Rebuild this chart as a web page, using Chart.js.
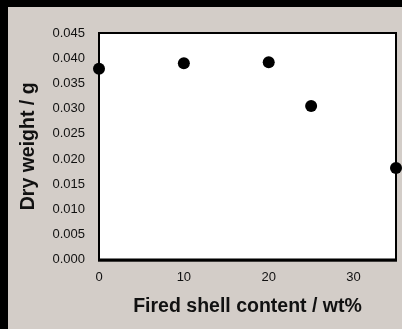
<!DOCTYPE html>
<html>
<head>
<meta charset="utf-8">
<style>
  html, body { margin: 0; padding: 0; background: #000; }
  #wrap { position: relative; width: 402px; height: 329px; }
</style>
<script src="https://cdn.jsdelivr.net/npm/chart.js@4/dist/chart.umd.min.js"></script>
</head>
<body>
<div id="wrap"><canvas id="c" width="402" height="329"></canvas></div>
<script>
// Fired shell content (wt%) and measured dry weight (g)
const shellContent = [0, 10, 20, 25, 35];
const dryWeight = [0.0379, 0.0390, 0.0392, 0.0305, 0.0182];
const xTicks = [0, 10, 20, 30];
const yTicks = [0, 0.005, 0.010, 0.015, 0.020, 0.025, 0.030, 0.035, 0.040, 0.045];

const FONT = "'Liberation Sans', Arial, Helvetica, sans-serif";

// Gray panel with black frame on top and left, and a boxed plot area
const framePlugin = {
  id: 'frame',
  beforeDraw(chart) {
    const ctx = chart.ctx;
    ctx.save();
    ctx.fillStyle = '#000';
    ctx.fillRect(0, 0, chart.width, chart.height);
    ctx.fillStyle = '#d3cdc8';
    ctx.fillRect(8, 7, chart.width - 8, chart.height - 7);
    const a = chart.chartArea;
    ctx.fillStyle = '#ffffff';
    ctx.fillRect(a.left, a.top, a.right - a.left, a.bottom - a.top);
    ctx.restore();
  },
  afterDatasetsDraw(chart) {},
  beforeDatasetsDraw(chart) {
    const ctx = chart.ctx;
    const a = chart.chartArea;
    ctx.save();
    ctx.strokeStyle = '#000';
    ctx.lineWidth = 2;
    ctx.strokeRect(a.left, a.top, a.right - a.left, a.bottom - a.top);
    ctx.lineWidth = 1;
    ctx.fillStyle = '#000';
    ctx.fillRect(a.left - 1, a.bottom - 1, a.right - a.left + 2, 3);
    ctx.restore();
  }
};

new Chart(document.getElementById('c'), {
  type: 'scatter',
  data: {
    datasets: [{
      data: shellContent.map((x, i) => ({ x: x, y: dryWeight[i] })),
      backgroundColor: '#000',
      borderColor: '#000',
      borderWidth: 0,
      pointRadius: 6,
      pointHoverRadius: 6,
      clip: false
    }]
  },
  options: {
    responsive: false,
    animation: false,
    events: [],
    layout: { padding: { top: 33, right: 4, left: 0, bottom: 0 } },
    plugins: { legend: { display: false }, tooltip: { enabled: false } },
    scales: {
      x: {
        type: 'linear',
        min: 0,
        max: 35,
        afterBuildTicks(scale) { scale.ticks = xTicks.map(v => ({ value: v })); },
        afterFit(scale) { scale.height = 69.3; },
        grid: { display: false, drawTicks: false },
        border: { display: false },
        ticks: {
          padding: 10,
          color: '#111',
          font: { family: FONT, size: 13 },
          maxRotation: 0,
          callback: v => String(v)
        },
        title: {
          display: true,
          text: 'Fired shell content / wt%',
          color: '#111',
          font: { family: FONT, size: 19.5, weight: 'bold' },
          padding: { top: 0, bottom: 11 }
        }
      },
      y: {
        type: 'linear',
        min: 0,
        max: 0.045,
        afterBuildTicks(scale) { scale.ticks = yTicks.map(v => ({ value: v })); },
        afterFit(scale) { scale.width = 99; },
        grid: { display: false, drawTicks: false },
        border: { display: false },
        ticks: {
          padding: 14,
          color: '#111',
          font: { family: FONT, size: 13 },
          callback: v => Number(v).toFixed(3)
        },
        title: {
          display: true,
          text: 'Dry weight / g',
          color: '#111',
          font: { family: FONT, size: 19.5, weight: 'bold' },
          padding: { top: 17, bottom: 0 }
        }
      }
    }
  },
  plugins: [framePlugin]
});
</script>
</body>
</html>
